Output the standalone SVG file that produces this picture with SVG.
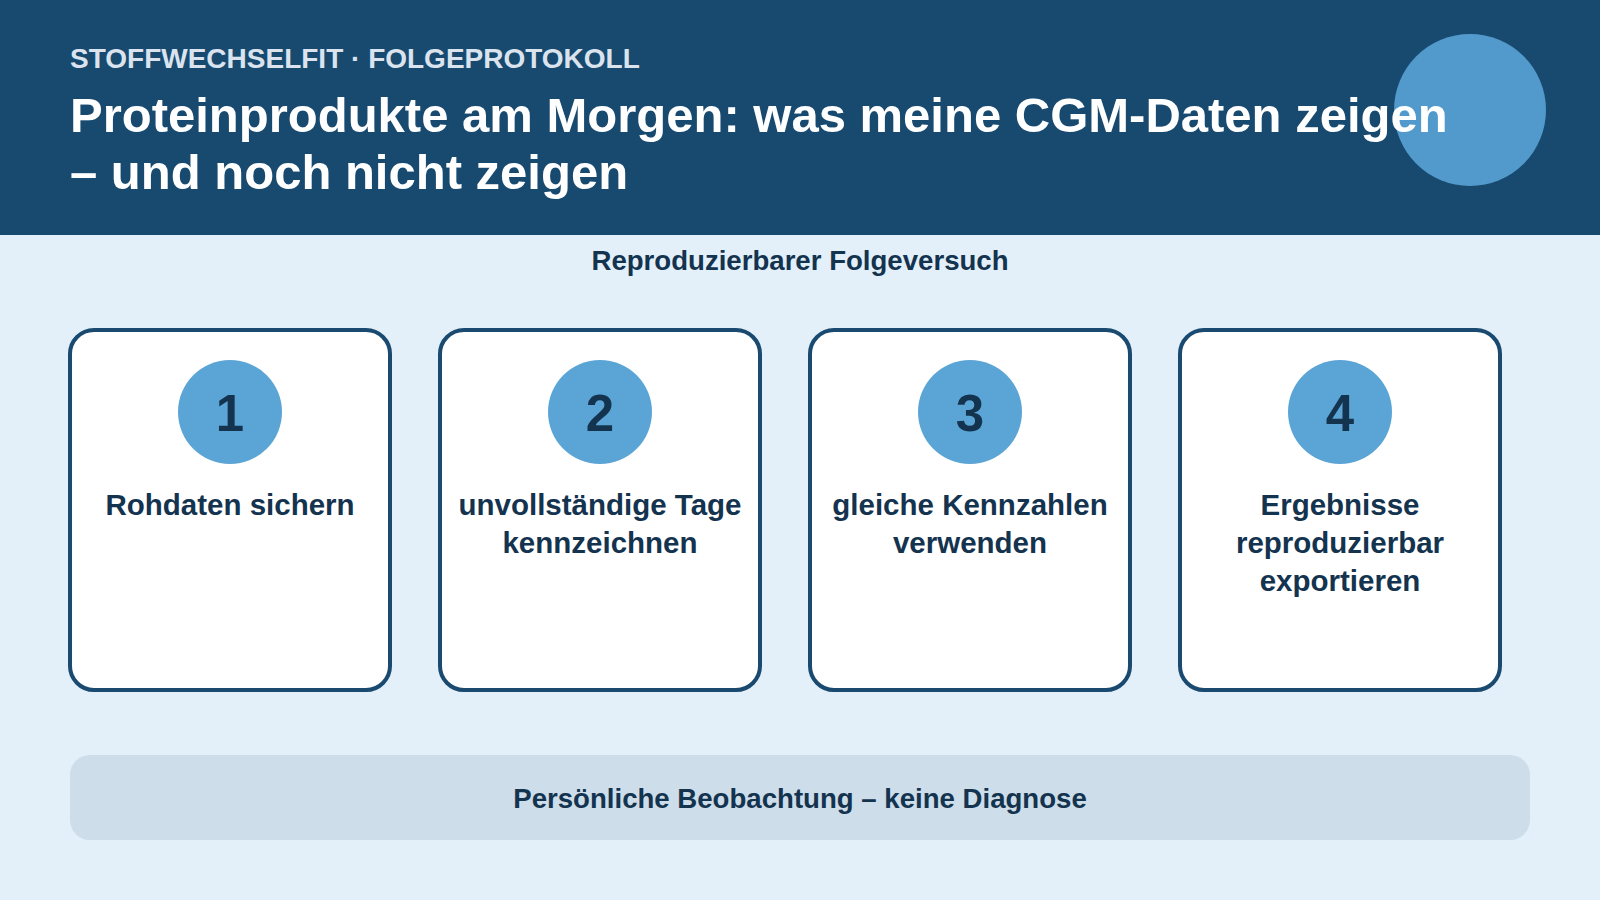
<svg xmlns="http://www.w3.org/2000/svg" width="1600" height="900" viewBox="0 0 1600 900">
<style>
.card{fill:#ffffff;stroke:#1a4a70;stroke-width:4}
.badge{fill:#5ba5d6}
.num{font-family:"Liberation Sans",Arial,sans-serif;font-weight:bold;font-size:51px;fill:#14334f;text-anchor:middle}
.lbl{font-family:"Liberation Sans",Arial,sans-serif;font-weight:bold;font-size:29.5px;fill:#14334f;text-anchor:middle}
.dark{font-family:"Liberation Sans",Arial,sans-serif;font-weight:bold;fill:#14334f;text-anchor:middle}
</style>
<rect x="0" y="0" width="1600" height="900" fill="#e3f0fa"/>
<g id="header">
<rect x="0" y="0" width="1600" height="235" fill="#184a70"/>
<circle cx="1470" cy="110" r="76" fill="#5299cc"/>
<text x="70" y="68" font-family="Liberation Sans,Arial,sans-serif" font-weight="bold" font-size="28" fill="#dbe4ee">STOFFWECHSELFIT · FOLGEPROTOKOLL</text>
<text font-family="Liberation Sans,Arial,sans-serif" font-weight="bold" font-size="49" fill="#ffffff"><tspan x="70" y="132">Proteinprodukte am Morgen: was meine CGM-Daten zeigen</tspan><tspan x="70" y="189">– und noch nicht zeigen</tspan></text>
</g>
<text id="subtitle" class="dark" x="800" y="270" font-size="27.6">Reproduzierbarer Folgeversuch</text>
<g id="step1">
<rect class="card" x="70" y="330" width="320" height="360" rx="24"/>
<circle class="badge" cx="230" cy="412" r="52"/>
<text class="num" x="230" y="431">1</text>
<text class="lbl" x="230" y="515">Rohdaten sichern</text>
</g>
<g id="step2">
<rect class="card" x="440" y="330" width="320" height="360" rx="24"/>
<circle class="badge" cx="600" cy="412" r="52"/>
<text class="num" x="600" y="431">2</text>
<text class="lbl"><tspan x="600" y="515">unvollständige Tage</tspan><tspan x="600" y="553">kennzeichnen</tspan></text>
</g>
<g id="step3">
<rect class="card" x="810" y="330" width="320" height="360" rx="24"/>
<circle class="badge" cx="970" cy="412" r="52"/>
<text class="num" x="970" y="431">3</text>
<text class="lbl"><tspan x="970" y="515">gleiche Kennzahlen</tspan><tspan x="970" y="553">verwenden</tspan></text>
</g>
<g id="step4">
<rect class="card" x="1180" y="330" width="320" height="360" rx="24"/>
<circle class="badge" cx="1340" cy="412" r="52"/>
<text class="num" x="1340" y="431">4</text>
<text class="lbl"><tspan x="1340" y="515">Ergebnisse</tspan><tspan x="1340" y="553">reproduzierbar</tspan><tspan x="1340" y="591">exportieren</tspan></text>
</g>
<g id="connectors"/>
<g id="footer">
<rect x="70" y="755" width="1460" height="85" rx="20" fill="#cddde9"/>
<text class="dark" x="800" y="808" font-size="27.6">Persönliche Beobachtung – keine Diagnose</text>
</g>
</svg>
